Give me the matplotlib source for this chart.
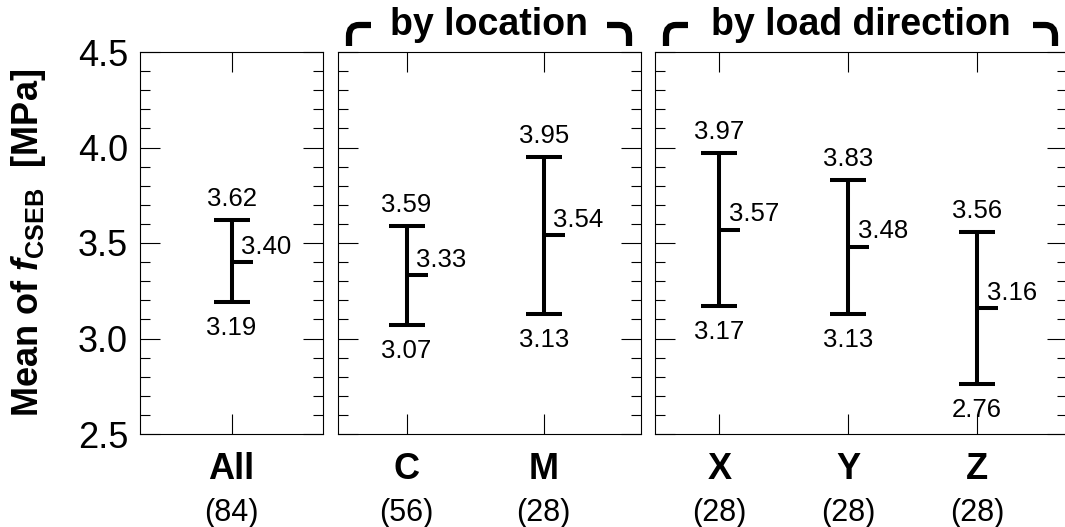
import numpy as np
import matplotlib.pyplot as plt
from matplotlib.path import Path
from matplotlib.patches import PathPatch
from matplotlib.ticker import MultipleLocator, FormatStrFormatter

plt.rcParams['font.family'] = 'Liberation Sans'
plt.rcParams['mathtext.fontset'] = 'custom'
plt.rcParams['mathtext.rm'] = 'Liberation Sans:bold'
plt.rcParams['mathtext.it'] = 'Liberation Sans:italic:bold'
plt.rcParams['mathtext.bf'] = 'Liberation Sans:bold'

# data
groups = ["All", "C", "M", "X", "Y", "Z"]
counts = [84, 56, 28, 28, 28, 28]
lower = [3.19, 3.07, 3.13, 3.17, 3.13, 2.76]
means = [3.40, 3.33, 3.54, 3.57, 3.48, 3.16]
upper = [3.62, 3.59, 3.95, 3.97, 3.83, 3.56]
panel_sizes = [1, 2, 3]
panel_titles = [None, "by location", "by load direction"]

W, H = 1065, 527
fig = plt.figure(figsize=(W / 100, H / 100), dpi=100)

# panel edges in pixels
boxes = [(140, 323), (338, 641), (655, 1067)]
xlims = [(0.3, 1.7), (0.5, 2.71), (0.5, 3.7)]
top, bottom = 52, 434

mean_marker = Path([(0, 0), (1, 0)], [Path.MOVETO, Path.LINETO])


def px(x, y):
    return (x / W, 1 - y / H)


def hooks(x0, x1):
    xa = x0 + 11
    xb = x1 - 12
    left = Path([px(xa, 46), px(xa, 36), px(xa, 25), px(xa + 10, 25), px(xa + 22, 25)],
                [Path.MOVETO, Path.LINETO, Path.CURVE3, Path.CURVE3, Path.LINETO])
    right = Path([px(xb - 22, 25), px(xb - 10, 25), px(xb, 25), px(xb, 36), px(xb, 46)],
                 [Path.MOVETO, Path.LINETO, Path.CURVE3, Path.CURVE3, Path.LINETO])
    for p in (left, right):
        fig.add_artist(PathPatch(p, transform=fig.transFigure, fill=False,
                                 lw=4.5, edgecolor='black', capstyle='butt'))


start = 0
axes = []
for i, n in enumerate(panel_sizes):
    x0, x1 = boxes[i]
    ax = fig.add_axes([x0 / W, 1 - bottom / H, (x1 - x0) / W, (bottom - top) / H])
    axes.append(ax)
    pos = np.arange(1, n + 1)
    lo = np.array(lower[start:start + n])
    mn = np.array(means[start:start + n])
    hi = np.array(upper[start:start + n])

    ax.errorbar(pos, mn, yerr=[mn - lo, hi - mn], fmt='none', ecolor='black',
                elinewidth=2.9, capsize=13, capthick=2.9)
    ax.plot(pos, mn, ls='none', marker=mean_marker, ms=30, mew=2.9, color='black')

    for p, l, m, h in zip(pos, lo, mn, hi):
        ax.annotate(f"{h:.2f}", (p, h), xytext=(0, 10), textcoords='offset points',
                    ha='center', va='baseline', fontsize=18.5)
        ax.annotate(f"{l:.2f}", (p, l), xytext=(0, -10), textcoords='offset points',
                    ha='center', va='top', fontsize=18.5)
        ax.annotate(f"{m:.2f}", (p, m), xytext=(7, 6), textcoords='offset points',
                    ha='left', va='baseline', fontsize=18.5)

    ax.set_xlim(xlims[i])
    ax.set_ylim(2.5, 4.5)
    ax.set_xticks(pos)
    ax.set_xticklabels(groups[start:start + n], fontweight='bold', fontsize=26)
    for p, c in zip(pos, counts[start:start + n]):
        ax.annotate(f"({c})", (p, 0), xycoords=('data', 'axes fraction'),
                    xytext=(0, -57), textcoords='offset points',
                    ha='center', va='center', fontsize=22, annotation_clip=False)

    ax.yaxis.set_major_locator(MultipleLocator(0.5))
    ax.yaxis.set_minor_locator(MultipleLocator(0.1))
    ax.yaxis.set_major_formatter(FormatStrFormatter('%.1f'))
    ax.tick_params(axis='both', which='both', direction='in', top=True, right=True,
                   width=0.8, color='black')
    ax.tick_params(which='major', length=14.4)
    ax.tick_params(which='minor', length=7.2)
    ax.tick_params(axis='x', pad=13)
    ax.tick_params(axis='y', labelsize=26, pad=8.6)
    if i > 0:
        ax.tick_params(axis='y', labelleft=False)
    for s in ax.spines.values():
        s.set_linewidth(0.8)

    if panel_titles[i]:
        fig.text((x0 + x1) / 2 / W, 1 - 35 / H, panel_titles[i], ha='center',
                 va='baseline', fontsize=27, fontweight='bold')
        hooks(x0, x1)
    start += n

axes[0].set_ylabel(r'Mean of $\mathit{f}_{\mathrm{CSEB}}$  [MPa]', fontsize=26,
                   fontweight='bold')
axes[0].yaxis.set_label_coords(-0.50, 0.5)

fig.savefig('out.png', dpi=100)
